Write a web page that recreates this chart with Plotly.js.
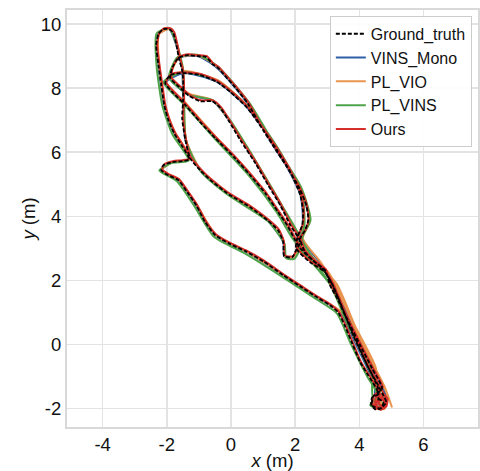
<!DOCTYPE html>
<html><head><meta charset="utf-8">
<script src="https://cdn.plot.ly/plotly-3.0.1.min.js"></script>
<style>html,body{margin:0;padding:0;background:#fff}#chart{width:480px;height:471px}</style>
</head><body><div id="chart"></div>
<script>
const seriesNames = ["Ground_truth","VINS_Mono","PL_VIO","PL_VINS","Ours"];

const gt_x = [4.59,4.75,4.68,4.50,4.37,4.40,4.59,4.53,4.28,4.03,3.78,3.56,3.34,3.09,2.63,2.16,1.63,1.01,0.45,-0.02,-0.49,-0.80,-1.08,-1.36,-1.64,-1.95,-2.17,-2.11,-1.83,-1.52,-1.30,-1.52,-1.77,-1.95,-2.08,-2.17,-2.26,-2.33,-2.26,-2.11,-1.92,-1.80,-1.70,-1.61,-1.52,-1.49,-1.49,-1.52,-1.42,-1.27,-0.96,-0.64,-0.12,0.60,1.13,1.47,1.63,1.66,1.91,2.03,2.16,1.85,1.54,1.16,0.76,0.29,-0.08,-0.33,-0.58,-0.96,-1.33,-1.64,-1.89,-1.83,-1.64,-1.36,-1.05,-0.77,-0.58,-0.40,-0.18,0.13,0.54,0.91,1.32,1.75,2.13,2.35,2.41,2.31,2.16,2.31,2.63,2.94,3.09,3.34,3.65,3.97,4.28,4.59,4.75,4.84,4.65,4.40,4.43,4.71,4.40,4.03,3.72,3.47,3.16,2.84,2.47,2.16,1.97,1.75,1.47,1.07,0.60,0.13,-0.49,-0.96,-1.42,-1.83,-2.05,-1.89,-1.49,-0.96,-0.43,-0.02,0.51,1.01,1.44,1.85,2.16,2.25,2.22,2.07,2.03,2.47,2.94,3.31,3.81,4.25,4.59,4.59];
const gt_y = [-1.69,-1.81,-2.00,-2.03,-1.88,-1.66,-1.56,-1.38,-0.97,-0.56,0.03,0.56,1.00,1.22,1.50,1.81,2.16,2.59,2.91,3.13,3.41,3.81,4.34,4.75,5.13,5.28,5.44,5.59,5.69,5.72,5.78,6.19,6.59,7.00,7.47,8.09,8.72,9.34,9.69,9.84,9.84,9.72,9.34,8.88,8.56,8.25,7.63,7.06,6.38,5.81,5.44,5.13,4.72,4.28,3.88,3.56,3.19,2.75,2.72,2.94,3.19,3.72,4.34,4.97,5.66,6.38,7.00,7.38,7.59,7.59,7.78,8.06,8.31,8.63,8.94,9.03,9.00,8.97,8.75,8.63,8.38,8.03,7.50,6.84,6.19,5.53,4.88,4.34,3.88,3.56,3.31,2.88,2.56,2.31,1.84,1.38,0.69,-0.03,-0.72,-1.28,-1.59,-1.81,-2.00,-1.91,-1.63,-1.38,-0.75,-0.03,0.59,1.13,1.88,2.38,2.69,3.00,3.31,3.72,4.13,4.72,5.28,5.81,6.44,6.94,7.47,7.88,8.16,8.41,8.47,8.41,8.19,7.88,7.38,6.69,6.06,5.38,4.66,4.13,3.72,3.34,3.00,2.56,2.25,1.53,0.28,-0.66,-1.38,-1.75];

const vinsmono_x = [4.62,4.71,4.40,4.62,4.36,3.88,3.42,2.64,1.63,0.45,-0.49,-1.08,-1.64,-2.17,-1.83,-1.30,-1.77,-2.08,-2.26,-2.26,-1.92,-1.70,-1.52,-1.49,-1.42,-0.96,-0.12,1.13,1.63,1.66,1.91,2.16,1.56,0.78,-0.06,-0.57,-1.35,-1.91,-1.64,-1.05,-0.58,-0.18,0.54,1.33,2.15,2.44,2.22,2.76,3.18,3.76,4.38,4.82,4.72,4.50,4.48,3.82,3.26,2.55,1.99,1.48,0.61,-0.48,-1.41,-2.04,-1.48,-0.42,0.52,1.45,2.17,2.24,2.10,3.00,3.90,4.72,4.85];
const vinsmono_y = [-1.70,-2.01,-1.87,-1.57,-0.97,0.03,1.00,1.50,2.16,2.91,3.41,4.34,5.13,5.44,5.69,5.78,6.59,7.47,8.72,9.69,9.84,9.34,8.56,7.63,6.38,5.44,4.72,3.88,3.19,2.75,2.72,3.19,4.34,5.66,7.00,7.60,7.80,8.33,8.94,9.00,8.75,8.38,7.50,6.19,4.88,3.88,3.31,2.56,1.84,0.69,-0.72,-1.59,-2.01,-1.64,-0.75,0.59,1.88,2.69,3.31,4.13,5.28,6.44,7.47,8.16,8.47,8.19,7.38,6.06,4.66,3.72,3.00,2.25,0.28,-1.38,-1.85];

const plvio_x = [4.66,4.74,4.44,4.66,4.40,3.92,3.45,2.66,1.65,0.47,-0.47,-1.06,-1.62,-2.15,-1.81,-1.28,-1.75,-2.06,-2.24,-2.24,-1.90,-1.68,-1.50,-1.47,-1.40,-0.94,-0.10,1.15,1.65,1.68,1.93,2.18,1.58,0.80,-0.05,-0.56,-1.31,-1.87,-1.62,-1.03,-0.56,-0.16,0.56,1.35,2.17,2.46,2.24,2.80,3.22,3.80,4.42,4.88,4.78,4.55,4.52,3.86,3.30,2.58,2.00,1.50,0.63,-0.46,-1.40,-2.03,-1.47,-0.41,0.54,1.47,2.19,2.27,2.12,3.04,3.95,4.80,5.02];
const plvio_y = [-1.72,-2.02,-1.86,-1.56,-0.97,0.03,1.00,1.50,2.16,2.91,3.41,4.34,5.13,5.45,5.70,5.78,6.59,7.47,8.72,9.69,9.84,9.34,8.58,7.63,6.38,5.44,4.72,3.88,3.19,2.75,2.72,3.19,4.34,5.66,7.00,7.62,7.83,8.36,8.96,9.02,8.77,8.40,7.52,6.20,4.88,3.88,3.31,2.56,1.84,0.69,-0.72,-1.59,-2.02,-1.66,-0.75,0.59,1.88,2.69,3.31,4.13,5.30,6.47,7.52,8.22,8.53,8.25,7.42,6.08,4.68,3.73,3.00,2.25,0.30,-1.35,-1.97];

const plvins_x = [4.57,4.66,4.34,4.57,4.24,3.74,3.30,2.60,1.60,0.42,-0.53,-1.13,-1.69,-2.23,-1.85,-1.32,-1.83,-2.14,-2.32,-2.32,-1.94,-1.68,-1.49,-1.46,-1.40,-0.94,-0.10,1.16,1.67,1.72,1.97,2.21,1.58,0.80,-0.05,-0.56,-1.32,-1.93,-1.66,-1.05,-0.55,-0.15,0.58,1.37,2.19,2.48,2.22,2.66,3.13,3.68,4.30,4.78,4.66,4.42,4.37,3.67,3.10,2.43,1.93,1.43,0.56,-0.53,-1.46,-2.10,-1.50,-0.42,0.55,1.49,2.22,2.29,2.09,2.98,3.84,4.61,4.63];
const plvins_y = [-1.71,-2.02,-1.90,-1.58,-0.99,0.01,0.97,1.45,2.11,2.85,3.36,4.30,5.10,5.43,5.66,5.74,6.57,7.46,8.72,9.70,9.88,9.36,8.58,7.64,6.37,5.40,4.67,3.84,3.14,2.69,2.67,3.18,4.35,5.68,7.03,7.62,7.80,8.33,8.97,9.04,8.78,8.41,7.53,6.22,4.90,3.88,3.29,2.54,1.80,0.64,-0.77,-1.63,-2.04,-1.66,-0.79,0.55,1.85,2.66,3.29,4.12,5.27,6.45,7.49,8.19,8.50,8.22,7.40,6.08,4.67,3.71,2.98,2.22,0.25,-1.40,-1.77];

const ours_x = [4.62,4.78,4.70,4.52,4.39,4.43,4.62,4.55,4.30,4.05,3.80,3.58,3.36,3.10,2.64,2.17,1.64,1.02,0.46,-0.01,-0.47,-0.78,-1.06,-1.34,-1.62,-1.93,-2.14,-2.08,-1.81,-1.50,-1.28,-1.49,-1.74,-1.92,-2.05,-2.14,-2.23,-2.30,-2.23,-2.08,-1.89,-1.77,-1.67,-1.58,-1.50,-1.47,-1.46,-1.49,-1.40,-1.25,-0.94,-0.62,-0.10,0.62,1.15,1.49,1.65,1.68,1.93,2.05,2.18,1.87,1.56,1.18,0.78,0.31,-0.06,-0.31,-0.56,-0.94,-1.31,-1.62,-1.86,-1.81,-1.62,-1.34,-1.03,-0.75,-0.56,-0.38,-0.16,0.15,0.56,0.93,1.33,1.76,2.14,2.36,2.42,2.33,2.18,2.33,2.65,2.96,3.11,3.36,3.67,3.99,4.30,4.61,4.77,4.86,4.67,4.42,4.45,4.73,4.42,4.05,3.74,3.49,3.18,2.86,2.49,2.18,1.99,1.77,1.49,1.09,0.62,0.15,-0.47,-0.94,-1.40,-1.80,-2.02,-1.86,-1.47,-0.94,-0.41,0.00,0.53,1.03,1.46,1.87,2.18,2.27,2.24,2.09,2.05,2.49,2.96,3.33,3.83,4.27,4.62,4.62,4.76,4.88,4.84,4.66,4.50,4.52,4.68,4.84,4.86,4.72,4.56,4.55,4.70,4.80,4.74,4.62,4.62,4.72];
const ours_y = [-1.67,-1.79,-1.98,-2.01,-1.86,-1.64,-1.54,-1.36,-0.95,-0.54,0.05,0.58,1.02,1.25,1.53,1.84,2.19,2.62,2.94,3.16,3.44,3.84,4.37,4.78,5.16,5.31,5.47,5.62,5.72,5.75,5.81,6.22,6.62,7.03,7.50,8.12,8.75,9.37,9.72,9.87,9.87,9.75,9.37,8.91,8.59,8.28,7.66,7.09,6.41,5.84,5.47,5.16,4.75,4.31,3.91,3.59,3.22,2.78,2.75,2.97,3.22,3.75,4.37,5.00,5.69,6.41,7.03,7.41,7.62,7.62,7.81,8.09,8.34,8.66,8.97,9.06,9.03,9.00,8.78,8.66,8.41,8.06,7.53,6.87,6.22,5.56,4.91,4.37,3.91,3.59,3.34,2.91,2.59,2.34,1.87,1.41,0.72,0.00,-0.69,-1.25,-1.56,-1.78,-1.97,-1.88,-1.60,-1.35,-0.72,0.00,0.62,1.16,1.91,2.41,2.72,3.03,3.34,3.75,4.16,4.75,5.31,5.84,6.47,6.97,7.50,7.91,8.19,8.44,8.50,8.44,8.22,7.91,7.41,6.72,6.09,5.41,4.69,4.16,3.75,3.37,3.03,2.59,2.28,1.56,0.31,-0.63,-1.35,-1.72,-1.56,-1.70,-1.94,-2.04,-1.90,-1.66,-1.56,-1.64,-1.84,-2.00,-1.96,-1.78,-1.64,-1.74,-1.90,-1.88,-1.74,-1.70];

const xTicks = [-4,-2,0,2,4,6];
const yTicks = [-2,0,2,4,6,8,10];

function tr(x, y, name, color, rank, dash, width) {
  return {x: x, y: y, type: 'scatter', mode: 'lines', name: name, legendrank: rank,
    line: {color: color, width: width, dash: dash, shape: 'spline', smoothing: 0.6},
    hoverinfo: 'skip'};
}

const data = [
  tr(vinsmono_x, vinsmono_y, seriesNames[1], '#2f5fa8', 2, 'solid', 2),
  tr(plvio_x, plvio_y, seriesNames[2], '#e8954f', 3, 'solid', 2),
  tr(plvins_x, plvins_y, seriesNames[3], '#4fa34a', 4, 'solid', 2),
  tr(ours_x, ours_y, seriesNames[4], '#d62f2a', 5, 'solid', 2),
  tr(gt_x, gt_y, seriesNames[0], '#000000', 1, '4px,2px', 1.8)
];

const FONT = 'Liberation Sans, Arial, sans-serif';
const axisCommon = {
  showgrid: true, gridcolor: '#e3e3e3', gridwidth: 1.5,
  zeroline: false, showline: true, linecolor: '#d9d9d9', linewidth: 2, mirror: true,
  ticks: '', automargin: false,
  tickfont: {family: FONT, size: 18.5, color: '#111'}
};

const layout = {
  width: 480, height: 471,
  margin: {l: 67, r: 2, t: 10, b: 44},
  paper_bgcolor: '#ffffff', plot_bgcolor: '#ffffff',
  showlegend: true,
  legend: {x: 0.985, xanchor: 'right', y: 0.986, yanchor: 'top',
    bgcolor: 'rgba(255,255,255,0.9)', bordercolor: '#cccccc', borderwidth: 1,
    font: {family: FONT, size: 16, color: '#111'},
    tracegroupgap: 0, traceorder: 'normal'},
  xaxis: Object.assign({}, axisCommon, {
    range: [-5.11, 7.70], tickvals: xTicks, ticktext: xTicks.map(String),
    ticklabelstandoff: 0,
    title: {text: '<i>x</i> (m)', standoff: 4, font: {family: FONT, size: 18.5, color: '#111'}}
  }),
  yaxis: Object.assign({}, axisCommon, {
    range: [-2.58, 10.44], tickvals: yTicks, ticktext: yTicks.map(String),
    ticklabelstandoff: 0,
    title: {text: '<i>y</i> (m)', standoff: 0, font: {family: FONT, size: 18.5, color: '#111'}}
  })
};

Plotly.newPlot('chart', data, layout, {staticPlot: true, displayModeBar: false});
</script>
</body></html>
